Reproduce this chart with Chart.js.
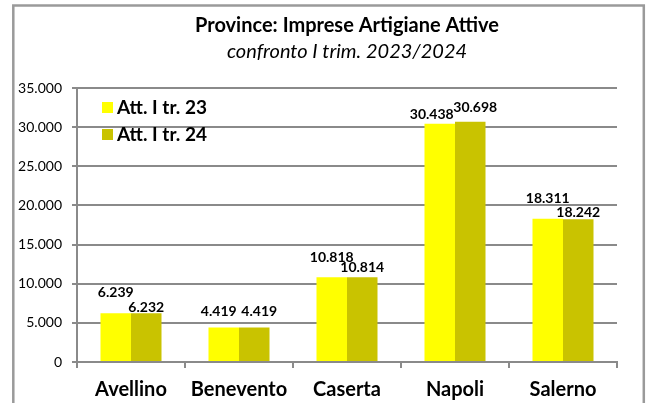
<!DOCTYPE html>
<html>
<head>
<meta charset="utf-8">
<script src="https://cdn.jsdelivr.net/npm/chart.js@4/dist/chart.umd.min.js"></script>
<style>
  html, body { margin: 0; padding: 0; background: #fff; }
  #wrap { width: 649px; height: 403px; }
</style>
</head>
<body>
<div id="wrap"><canvas id="artigiane" width="649" height="403"></canvas></div>
<script>
// data
var province = ['Avellino', 'Benevento', 'Caserta', 'Napoli', 'Salerno'];
var att23 = [6239, 4419, 10818, 30438, 18311];
var att24 = [6232, 4419, 10814, 30698, 18242];
var yTicks = [0, 5000, 10000, 15000, 20000, 25000, 30000, 35000];

// label nudges (px) so that neighbouring value labels do not overlap, as in the original
var dx23 = [0, -5, 0, -8, 0];
var lift23 = [16, 11, 15, 5, 16];
var dx24 = [0, 5, 0, 5, 0];
var lift24 = [1, 11, 5, 10, 2];

var FONT = 'Lato';
var GRID = '#8a8a8a';

function fmt(v) {
  return String(v).replace(/\B(?=(\d{3})+(?!\d))/g, '.');
}

var framePlugin = {
  id: 'frame',
  beforeDraw: function(chart) {
    var c = chart.ctx;
    c.save();
    c.fillStyle = '#fff';
    c.fillRect(0, 0, chart.width, chart.height);
    c.strokeStyle = '#9a9a9a';
    c.lineWidth = 2.5;
    c.strokeRect(13.3, 5.5, 630.5, 420);
    c.restore();
  }
};

var titlePlugin = {
  id: 'twoLineTitle',
  afterDraw: function(chart) {
    var c = chart.ctx;
    var a = chart.chartArea;
    var cx = (a.left + a.right) / 2;
    c.save();
    c.fillStyle = '#000';
    c.textAlign = 'center';
    c.textBaseline = 'alphabetic';
    c.font = 'bold 20px ' + FONT;
    c.fillText('Province: Imprese Artigiane Attive', cx, 32);
    c.font = 'italic 20px ' + FONT;
    c.fillText('confronto I trim. 2023/2024', cx, 58);
    c.restore();
  }
};

var legendPlugin = {
  id: 'innerLegend',
  afterDraw: function(chart) {
    var c = chart.ctx;
    var a = chart.chartArea;
    c.save();
    c.font = 'bold 19px ' + FONT;
    c.textBaseline = 'middle';
    c.textAlign = 'left';
    chart.data.datasets.forEach(function(ds, i) {
      var y = a.top + 14 + i * 27;
      c.fillStyle = ds.backgroundColor;
      c.fillRect(a.left + 25, y, 11, 11);
      c.fillStyle = '#000';
      c.fillText(ds.label, a.left + 40, y + 6);
    });
    c.restore();
  }
};

var valueLabels = {
  id: 'valueLabels',
  afterDatasetsDraw: function(chart) {
    var c = chart.ctx;
    var shifts = [[dx23, lift23], [dx24, lift24]];
    c.save();
    c.font = 'bold 14px ' + FONT;
    c.fillStyle = '#000';
    c.textAlign = 'center';
    c.textBaseline = 'alphabetic';
    chart.data.datasets.forEach(function(ds, i) {
      chart.getDatasetMeta(i).data.forEach(function(bar, j) {
        c.fillText(fmt(ds.data[j]), bar.x + shifts[i][0][j], bar.y - shifts[i][1][j]);
      });
    });
    c.restore();
  }
};

Chart.defaults.font.family = FONT;
Chart.defaults.color = '#000';

var ctx = document.getElementById('artigiane').getContext('2d');
var chart = new Chart(ctx, {
  type: 'bar',
  data: {
    labels: province,
    datasets: [{
      label: 'Att. I tr. 23',
      data: att23,
      backgroundColor: '#FFFF00',
      borderWidth: 0
    }, {
      label: 'Att. I tr. 24',
      data: att24,
      backgroundColor: '#C9C300',
      borderWidth: 0
    }]
  },
  options: {
    responsive: false,
    animation: false,
    categoryPercentage: 0.565,
    barPercentage: 1,
    layout: {
      padding: { top: 88, right: 32, bottom: 0, left: 0 }
    },
    plugins: {
      legend: { display: false },
      title: { display: false },
      tooltip: { enabled: false }
    },
    scales: {
      x: {
        afterFit: function(scale) {
          scale.height = 41;
        },
        grid: {
          display: true,
          offset: true,
          drawOnChartArea: false,
          drawTicks: true,
          tickLength: 6,
          color: GRID,
          lineWidth: 2
        },
        border: { display: true, color: GRID, width: 2 },
        ticks: {
          padding: 10,
          font: { size: 20, weight: 'bold' },
          color: '#000'
        }
      },
      y: {
        min: 0,
        max: 35000,
        afterBuildTicks: function(scale) {
          scale.ticks = yTicks.map(function(v) { return { value: v }; });
        },
        afterFit: function(scale) {
          scale.width = 77;
        },
        grid: {
          color: GRID,
          lineWidth: 2,
          drawTicks: true,
          tickLength: 5
        },
        border: { display: true, color: GRID, width: 2 },
        ticks: {
          padding: 10,
          font: { size: 14 },
          color: '#000',
          callback: function(v) { return fmt(v); }
        }
      }
    }
  },
  plugins: [framePlugin, valueLabels, titlePlugin, legendPlugin]
});
</script>
</body>
</html>
